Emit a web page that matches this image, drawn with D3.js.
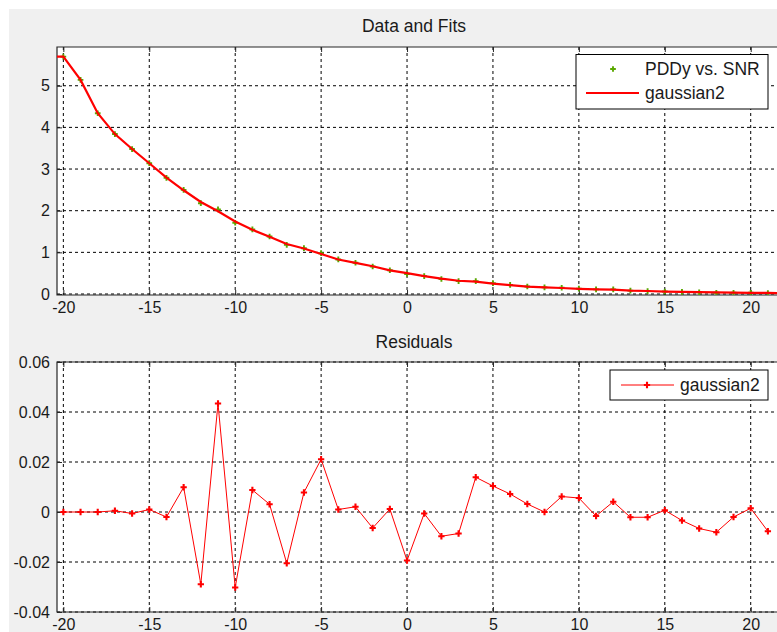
<!DOCTYPE html>
<html><head><meta charset="utf-8">
<script src="https://cdn.jsdelivr.net/npm/d3@7"></script>
<style>
body{margin:0;background:#fff;}
text{font-family:"Liberation Sans",Arial,Helvetica,sans-serif;fill:#1a1a1a;}
</style>
</head><body>
<svg id="chart" width="777" height="632"></svg>
<script>
// ---- data ----
const snr = [-20,-19,-18,-17,-16,-15,-14,-13,-12,-11,-10,-9,-8,-7,-6,-5,-4,-3,-2,-1,0,1,2,3,4,5,6,7,8,9,10,11,12,13,14,15,16,17,18,19,20,21];
const pddy = [5.70,5.14,4.34,3.84,3.48,3.14,2.79,2.50,2.18,2.03,1.71,1.55,1.38,1.18,1.10,0.98,0.83,0.75,0.66,0.57,
              0.48,0.43,0.36,0.31,0.31,0.26,0.22,0.18,0.16,0.15,0.13,0.11,0.11,0.08,0.07,0.06,0.05,0.04,0.03,0.03,0.03,0.02];
const residuals = [0,0,0,0.0005,-0.0006,0.001,-0.002,0.0099,-0.0289,0.0434,-0.0302,0.0088,0.0031,-0.0205,0.0078,0.0211,0.001,0.0021,-0.0064,0.0012,
                   -0.0194,-0.0006,-0.0097,-0.0086,0.0139,0.0104,0.0072,0.0032,0.0,0.0062,0.0056,-0.0016,0.0041,-0.0021,-0.0021,0.0007,-0.0034,-0.0066,-0.0081,-0.002,0.0015,-0.0077];
// fit curve extension to the axis edges
const fitEdgeX = [-20.37, 21.6];
const fitEdgeY = [5.70, 0.02];

const xTicks = [-20,-15,-10,-5,0,5,10,15,20];
const topYTicks = [0,1,2,3,4,5];
const resYTicks = [-0.04,-0.02,0,0.02,0.04,0.06];
const resYLabels = ["-0.04","-0.02","0","0.02","0.04","0.06"];

const titleTop = "Data and Fits";
const titleBottom = "Residuals";
const legendData = "PDDy vs. SNR";
const legendFit = "gaussian2";

// ---- layout ----
const svg = d3.select("#chart");
svg.append("rect").attr("x",9).attr("y",9).attr("width",800).attr("height",640).attr("fill","#f0f0f0");

const left = 57, right = 778.2;
const x = d3.scaleLinear().domain([-20.37, 21.6]).range([left, right]);

const greenCol = "#5aa800";
const redCol = "#ff0000";
const tickFont = "16px", titleFont = "17.5px";

function panel(top, bottom, yDomain, yTicks, yLabels, title, titleY){
  const y = d3.scaleLinear().domain(yDomain).range([bottom, top]);
  const g = svg.append("g");
  g.append("rect").attr("x",left).attr("y",top).attr("width",right-left+5).attr("height",bottom-top).attr("fill","#fff");
  // grid
  g.selectAll(".gx").data(xTicks).join("line")
    .attr("x1",d=>x(d)).attr("x2",d=>x(d)).attr("y1",top).attr("y2",bottom)
    .attr("stroke","#000").attr("stroke-width",1).attr("stroke-dasharray","3,3");
  g.selectAll(".gy").data(yTicks).join("line")
    .attr("x1",left).attr("x2",right+5).attr("y1",d=>y(d)).attr("y2",d=>y(d))
    .attr("stroke","#000").attr("stroke-width",1).attr("stroke-dasharray","3,3");
  // axes
  const ax = d3.axisBottom(x).tickValues(xTicks).tickSize(-5).tickPadding(7).tickFormat(d=>String(d));
  const gx = g.append("g").attr("transform",`translate(0,${bottom})`).call(ax);
  const axT = d3.axisTop(x).tickValues(xTicks).tickSize(-5).tickFormat("");
  const gt = g.append("g").attr("transform",`translate(0,${top})`).call(axT);
  const ay = d3.axisLeft(y).tickValues(yTicks).tickSize(-5).tickPadding(7).tickFormat((d,i)=>yLabels[i]);
  const gy = g.append("g").attr("transform",`translate(${left},0)`).call(ay);
  [gx,gt,gy].forEach(a=>{
    a.select(".domain").remove();
    a.selectAll("line").attr("stroke","#262626");
    a.selectAll("text").style("font-size",tickFont).attr("fill","#1a1a1a")
      .style("font-family",'"Liberation Sans",Arial,sans-serif');
  });
  // box
  g.append("path").attr("d",`M${right+5},${top}H${left}V${bottom}H${right+5}`)
    .attr("fill","none").attr("stroke","#262626").attr("stroke-width",1.2);
  svg.append("text").attr("x",414).attr("y",titleY).attr("text-anchor","middle")
    .style("font-size",titleFont).text(title);
  return {g,y};
}

// ---- top panel ----
const p1 = panel(47, 295, [-0.024, 5.93], topYTicks, topYTicks.map(String), titleTop, 32);
const clip1 = svg.append("clipPath").attr("id","c1").append("rect").attr("x",left).attr("y",47).attr("width",777-left).attr("height",248);
const dataPts = snr.map((s,i)=>({x:s,y:pddy[i]}));
const fitPts = [{x:fitEdgeX[0],y:fitEdgeY[0]}]
  .concat(snr.map((s,i)=>({x:s,y:pddy[i]-residuals[i]})))
  .concat([{x:fitEdgeX[1],y:fitEdgeY[1]}]);
const gp1 = p1.g.append("g").attr("clip-path","url(#c1)");
gp1.selectAll(".pt").data(dataPts).join("path")
  .attr("d",d3.symbol(d3.symbolCross,18)())
  .attr("transform",d=>`translate(${x(d.x)},${p1.y(d.y)})`)
  .attr("fill",greenCol);
gp1.append("path").datum(fitPts)
  .attr("d",d3.line().x(d=>x(d.x)).y(d=>p1.y(d.y)))
  .attr("fill","none").attr("stroke",redCol).attr("stroke-width",2.2);

// legend top
const lg1 = svg.append("g");
lg1.append("rect").attr("x",576).attr("y",54.5).attr("width",192).attr("height",54.5)
  .attr("fill","#fff").attr("stroke","#000").attr("stroke-width",1);
lg1.append("path").attr("d",d3.symbol(d3.symbolCross,18)()).attr("transform","translate(613,69)").attr("fill",greenCol);
lg1.append("text").attr("x",645).attr("y",75).style("font-size",titleFont).text(legendData);
lg1.append("line").attr("x1",586).attr("x2",639).attr("y1",93).attr("y2",93).attr("stroke",redCol).attr("stroke-width",2.2);
lg1.append("text").attr("x",645).attr("y",99).style("font-size",titleFont).text(legendFit);

// ---- bottom panel ----
const p2 = panel(362, 612, [-0.04, 0.06], resYTicks, resYLabels, titleBottom, 348);
const resPts = snr.map((s,i)=>({x:s,y:residuals[i]}));
p2.g.append("path").datum(resPts)
  .attr("d",d3.line().x(d=>x(d.x)).y(d=>p2.y(d.y)))
  .attr("fill","none").attr("stroke",redCol).attr("stroke-width",1);
p2.g.selectAll(".rp").data(resPts).join("path")
  .attr("d",d3.symbol(d3.symbolCross,22)())
  .attr("transform",d=>`translate(${x(d.x)},${p2.y(d.y)})`)
  .attr("fill",redCol);

// legend bottom
const lg2 = svg.append("g");
lg2.append("rect").attr("x",610).attr("y",370).attr("width",158).attr("height",30)
  .attr("fill","#fff").attr("stroke","#000").attr("stroke-width",1);
lg2.append("line").attr("x1",621).attr("x2",674).attr("y1",385).attr("y2",385).attr("stroke",redCol).attr("stroke-width",1);
lg2.append("path").attr("d",d3.symbol(d3.symbolCross,22)()).attr("transform","translate(647,385)").attr("fill",redCol);
lg2.append("text").attr("x",680).attr("y",391).style("font-size",titleFont).text(legendFit);
</script>
</body></html>
